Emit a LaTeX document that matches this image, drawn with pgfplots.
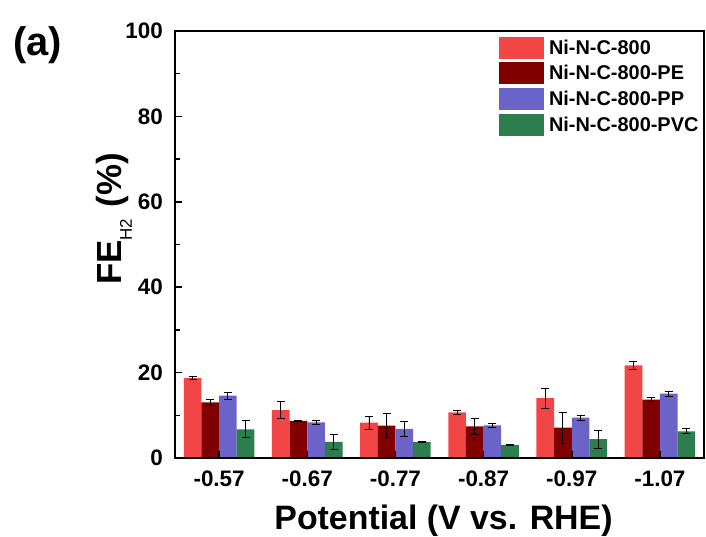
\documentclass[border=0pt]{standalone}
\usepackage{pgfplots}
\pgfplotsset{compat=1.18}
\usepackage{fontspec}
\setmainfont{Liberation Sans}
\definecolor{cRed}{RGB}{242,69,69}
\definecolor{cDark}{RGB}{128,0,0}
\definecolor{cBlue}{RGB}{107,99,200}
\definecolor{cGreen}{RGB}{46,125,78}
\begin{document}
\begin{tikzpicture}
\path[use as bounding box] (0,0) rectangle (706bp,537bp);
\node[anchor=base west, inner sep=0pt, font=\fontsize{40}{44}\selectfont\bfseries] at (13bp,481bp) {(a)};
\begin{axis}[
  at={(175bp,79bp)}, anchor=south west,
  scale only axis, width=529bp, height=427bp,
  xmin=-0.5, xmax=5.5, ymin=0, ymax=100,
  ybar=0pt, bar width=0.2,
  xtick={0,1,2,3,4,5},
  xticklabels={-0.57,-0.67,-0.77,-0.87,-0.97,-1.07},
  ytick={0,20,40,60,80,100},
  minor ytick={10,30,50,70,90},
  /pgf/number format/assume math mode=true,
  tick align=inside, xtick pos=bottom, ytick pos=left,
  major tick length=7bp, minor tick length=4.5bp,
  axis line style={line width=1.8bp},
  tick style={line width=1.5bp, black},
  axis on top,
  ticklabel style={font=\fontsize{22.5}{26}\selectfont\bfseries, inner sep=0pt},
  xticklabel style={anchor=base, yshift=-29bp},
  yticklabel style={anchor=east, xshift=-12bp},
  xlabel={Potential (V vs. RHE)},
  xlabel style={at={(axis description cs:0.5,0)}, anchor=base, yshift=-71bp, xshift=4bp, inner sep=0pt, font=\fontsize{34}{40}\selectfont\bfseries},
  ylabel={FE\raisebox{-10bp}{\fontsize{17}{18}\selectfont\mdseries H2}\,\,(\%)},
  ylabel style={at={(axis description cs:-0.1002,0.56)}, anchor=base, inner sep=0pt, font=\fontsize{35}{40}\selectfont\bfseries},
  legend style={at={(axis description cs:0.6125,0.9867)}, anchor=north west, draw=none, fill=none, inner sep=0pt, outer sep=0pt, row sep=3.7bp, column sep=5bp, font=\fontsize{20}{22}\selectfont\bfseries, nodes={inner sep=0pt}},
  legend cell align=left,
  legend image code/.code={\fill[#1] (0bp,-11bp) rectangle (45bp,11bp);},
  error bars/y dir=both, error bars/y explicit,
  error bars/error bar style={black, line width=0.9bp},
  error bars/error mark options={black, line width=0.9bp, mark size=4bp, rotate=90},
]
\addplot[fill=cRed, draw=none] coordinates {
 (0,18.7) +- (0,0.35) (1,11.2) +- (0,2.0) (2,8.3) +- (0,1.5)
 (3,10.7) +- (0,0.45) (4,14.0) +- (0,2.3) (5,21.7) +- (0,1.0)};
\addplot[fill=cDark, draw=none] coordinates {
 (0,13.0) +- (0,0.7) (1,8.7) +- (0,0.2) (2,7.6) +- (0,2.9)
 (3,7.4) +- (0,1.85) (4,7.1) +- (0,3.6) (5,13.7) +- (0,0.5)};
\addplot[fill=cBlue, draw=none] coordinates {
 (0,14.6) +- (0,0.8) (1,8.35) +- (0,0.5) (2,6.8) +- (0,1.7)
 (3,7.65) +- (0,0.4) (4,9.45) +- (0,0.6) (5,15.1) +- (0,0.6)};
\addplot[fill=cGreen, draw=none] coordinates {
 (0,6.7) +- (0,2.0) (1,3.8) +- (0,1.7) (2,3.75) +- (0,0.05)
 (3,3.05) +- (0,0.05) (4,4.4) +- (0,2.1) (5,6.25) +- (0,0.6)};
\legend{Ni-N-C-800,Ni-N-C-800-PE,Ni-N-C-800-PP,Ni-N-C-800-PVC}
\end{axis}
\end{tikzpicture}
\end{document}
